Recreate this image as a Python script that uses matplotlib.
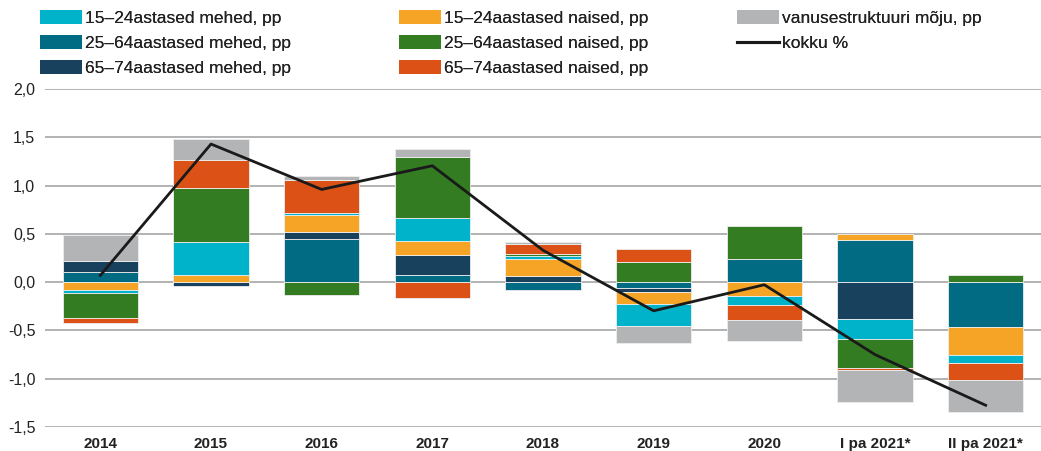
import numpy as np
import matplotlib
matplotlib.use("Agg")
import matplotlib.pyplot as plt
from matplotlib.patches import Patch
from matplotlib.lines import Line2D

plt.rcParams['font.family'] = ['Liberation Sans', 'DejaVu Sans']

categories = ['2014', '2015', '2016', '2017', '2018', '2019', '2020', 'I pa 2021*', 'II pa 2021*']
men_15_24 = [-0.03, 0.35, 0.02, 0.238, 0.04, -0.227, -0.09, -0.21, -0.088]
men_25_64 = [0.105, 0.0, 0.444, 0.077, -0.08, -0.063, 0.238, 0.437, -0.467]
men_65_74 = [0.115, -0.045, 0.074, 0.2, 0.06, -0.035, 0.0, -0.377, 0.0]
women_15_24 = [-0.08, 0.07, 0.174, 0.147, 0.175, -0.128, -0.147, 0.063, -0.283]
women_25_64 = [-0.26, 0.55, -0.13, 0.635, 0.015, 0.21, 0.347, -0.297, 0.07]
women_65_74 = [-0.055, 0.29, 0.345, -0.168, 0.105, 0.13, -0.153, -0.028, -0.172]
age_structure = [0.27, 0.22, 0.045, 0.08, 0.025, -0.175, -0.22, -0.331, -0.335]
total = [0.07, 1.43, 0.96, 1.205, 0.33, -0.297, -0.027, -0.75, -1.275]
yticks = [2.0, 1.5, 1.0, 0.5, 0.0, -0.5, -1.0, -1.5]

L_M1 = '15\u201324astased mehed, pp'
L_M2 = '25\u201364aastased mehed, pp'
L_M3 = '65\u201374aastased mehed, pp'
L_W1 = '15\u201324aastased naised, pp'
L_W2 = '25\u201364aastased naised, pp'
L_W3 = '65\u201374aastased naised, pp'
L_AG = 'vanusestruktuuri m\u00f5ju, pp'
L_TOT = 'kokku %'

series = {
    L_M1: (men_15_24, '#00B3CA'),
    L_M2: (men_25_64, '#006B82'),
    L_M3: (men_65_74, '#18415E'),
    L_W1: (women_15_24, '#F5A425'),
    L_W2: (women_25_64, '#337C22'),
    L_W3: (women_65_74, '#DC5216'),
    L_AG: (age_structure, '#B3B4B6'),
}
stack_order = [L_M2, L_M3, L_W1, L_M1, L_W2, L_W3, L_AG]

fig = plt.figure(figsize=(10.41, 4.51), dpi=100)
ax = fig.add_axes([45 / 1041, 24 / 451, 1 - 45 / 1041, (427 - 89) / 451])

x = np.arange(len(categories))
pos = np.zeros(len(categories))
neg = np.zeros(len(categories))
for name in stack_order:
    vals, col = series[name]
    v = np.array(vals)
    bottoms = np.where(v >= 0, pos, neg)
    ax.bar(x, v, bottom=bottoms, width=0.68, color=col, edgecolor='#eeeeee',
           linewidth=0.6, zorder=2)
    pos = pos + np.where(v >= 0, v, 0)
    neg = neg + np.where(v < 0, v, 0)

ax.plot(x, total, color='#1a1a1a', lw=2.0, zorder=3)

ax.set_xlim(-0.5, len(categories) - 0.5)
ax.set_ylim(-1.5, 2.0)
ax.set_yticks(yticks)
ax.set_yticklabels([f"{t:.1f}".replace('.', ',') for t in yticks], fontsize=11.5, color='#222222')
ax.set_xticks(x)
ax.set_xticklabels(categories, fontsize=11, fontweight='bold', color='#222222')
ax.tick_params(axis='both', length=0)
ax.tick_params(axis='y', pad=7)
ax.tick_params(axis='x', pad=7)
for s in ax.spines.values():
    s.set_visible(False)
ax.yaxis.grid(True, color='#a6a6a6', lw=1.2, zorder=0)
ax.set_axisbelow(True)

def patch(name):
    return Patch(facecolor=series[name][1], edgecolor='none')

columns = [
    ([patch(L_M1), patch(L_M2), patch(L_M3)], [L_M1, L_M2, L_M3], 40),
    ([patch(L_W1), patch(L_W2), patch(L_W3)], [L_W1, L_W2, L_W3], 399),
    ([patch(L_AG), Line2D([0], [0], color='#1a1a1a', lw=2.2)], [L_AG, L_TOT], 737),
]
for hs, ls, xpx in columns:
    leg = fig.legend(hs, ls, loc='upper left', bbox_to_anchor=(xpx / 1041, 1 - 10 / 451),
                     frameon=False, fontsize=12.5, handlelength=2.4, handleheight=0.86,
                     handletextpad=0.22, labelspacing=0.52, borderpad=0, borderaxespad=0)
    for t in leg.get_texts():
        t.set_color('#222222')
    fig.add_artist(leg)

fig.savefig('out.png', dpi=100)
